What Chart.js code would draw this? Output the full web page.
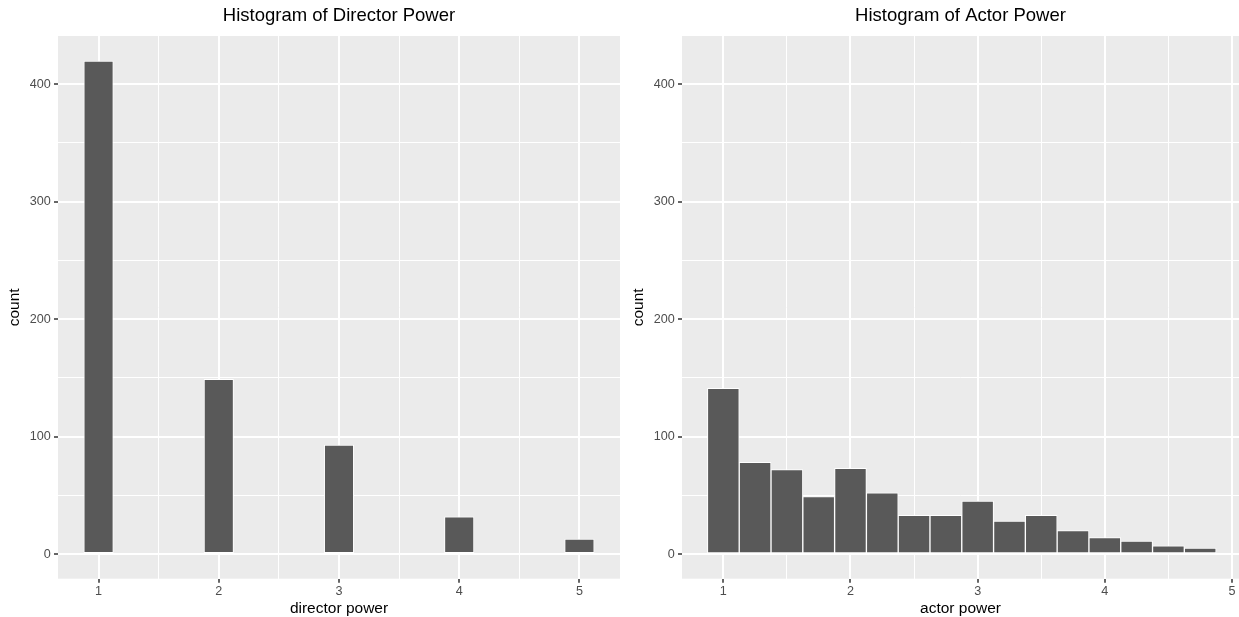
<!DOCTYPE html>
<html><head><meta charset="utf-8">
<script src="https://cdn.jsdelivr.net/npm/chart.js@4.4.1/dist/chart.umd.min.js"></script>
<style>
html,body{margin:0;padding:0;background:#fff;width:1239px;height:617px;overflow:hidden;position:relative}
canvas{position:absolute;top:0}
</style></head>
<body>
<canvas id="c1" width="620" height="617" style="left:0"></canvas>
<canvas id="c2" width="619" height="617" style="left:620px"></canvas>
<script>
// ---- data ----
const directorBins = [1, 2, 3, 4, 5];
const directorCounts = [420, 149, 93, 32, 13];
const actorBins = [1, 1.25, 1.5, 1.75, 2, 2.25, 2.5, 2.75, 3, 3.25, 3.5, 3.75, 4, 4.25, 4.5, 4.75];
const actorCounts = [141, 78, 72, 49, 73, 52, 33, 33, 45, 28, 33, 20, 14, 11, 7, 5];
const xMajorTicks = [1, 2, 3, 4, 5];
const xMinorTicks = [1.5, 2.5, 3.5, 4.5];
const yMajorTicks = [0, 100, 200, 300, 400];
const yMinorTicks = [50, 150, 250, 350];

Chart.defaults.font.family = "'Liberation Sans', Arial, Helvetica, sans-serif";

const panelBg = {
  id: 'panelBg',
  beforeDraw(chart) {
    const a = chart.chartArea, ctx = chart.ctx;
    ctx.save();
    ctx.fillStyle = '#EBEBEB';
    ctx.fillRect(a.left, a.top, a.right - a.left, a.bottom - a.top);
    ctx.restore();
  }
};

function tickSet(major, minor) {
  return major.concat(minor).sort((a, b) => a - b).map(v => ({value: v}));
}

function makeChart(id, o) {
  const isMajorX = c => c.tick && xMajorTicks.includes(c.tick.value);
  const isMajorY = c => c.tick && yMajorTicks.includes(c.tick.value);
  return new Chart(document.getElementById(id), {
    type: 'bar',
    data: {
      datasets: [{
        data: o.bins.map((b, i) => ({x: b, y: o.counts[i]})),
        backgroundColor: '#595959',
        borderColor: '#FFFFFF',
        borderWidth: 1,
        borderSkipped: false,
        barPercentage: o.barPct,
        categoryPercentage: 1.0
      }]
    },
    options: {
      responsive: false,
      animation: false,
      events: [],
      layout: {padding: {left: 0, right: 0, top: 0, bottom: 0}},
      plugins: {
        legend: {display: false},
        tooltip: {enabled: false},
        title: {
          display: true, text: o.title, fullSize: false,
          color: '#000000', font: {size: 18.5, weight: 'normal', lineHeight: 1.2},
          padding: {top: 4.9, bottom: 8.9}
        }
      },
      scales: {
        x: {
          type: 'linear', min: o.xmin, max: o.xmax, offset: false,
          afterBuildTicks: ax => { ax.ticks = tickSet(xMajorTicks, xMinorTicks); },
          afterFit: ax => { ax.height = 38.3; },
          ticks: {
            color: '#4D4D4D', font: {size: 12.6, lineHeight: 1.2}, padding: 0.8, maxRotation: 0, autoSkip: false,
            callback: v => xMajorTicks.includes(v) ? String(v) : ''
          },
          grid: {
            offset: false, color: '#FFFFFF', drawTicks: true, tickLength: 4,
            lineWidth: c => isMajorX(c) ? 2 : 1,
            tickWidth: 1.5,
            tickColor: c => isMajorX(c) ? '#333333' : 'rgba(0,0,0,0)'
          },
          border: {display: false},
          title: {display: true, text: o.xlabel, color: '#000000', font: {size: 15.5, lineHeight: 1.0}, padding: {top: 0, bottom: 0.85}}
        },
        y: {
          type: 'linear', min: -21, max: 441,
          afterBuildTicks: ax => { ax.ticks = tickSet(yMajorTicks, yMinorTicks); },
          afterFit: ax => { ax.width = o.yw; },
          ticks: {
            color: '#4D4D4D', font: {size: 12.6}, padding: 3.3, autoSkip: false,
            callback: v => yMajorTicks.includes(v) ? String(v) : ''
          },
          grid: {
            color: '#FFFFFF', drawTicks: true, tickLength: 4,
            lineWidth: c => isMajorY(c) ? 2 : 1,
            tickWidth: 1.5,
            tickColor: c => isMajorY(c) ? '#333333' : 'rgba(0,0,0,0)'
          },
          border: {display: false},
          title: {display: true, text: 'count', color: '#000000', font: {size: 15.5, lineHeight: 1.0}, padding: {top: o.ytp, bottom: 0}}
        }
      }
    },
    plugins: [panelBg]
  });
}

makeChart('c1', {
  bins: directorBins, counts: directorCounts, barPct: 0.5,
  title: 'Histogram of Director Power', xlabel: 'director power',
  xmin: 0.6625, xmax: 5.3375, yw: 58, ytp: 7.25
});
makeChart('c2', {
  bins: actorBins, counts: actorCounts, barPct: 1.0,
  title: 'Histogram of Actor Power', xlabel: 'actor power',
  xmin: 0.675, xmax: 5.055, yw: 62, ytp: 11.25
});
</script>
</body></html>
